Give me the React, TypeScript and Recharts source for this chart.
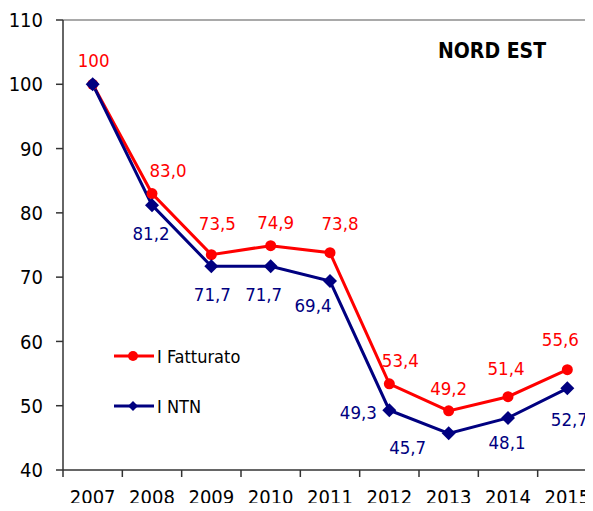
import React from 'react';
import { LineChart, Line, XAxis, YAxis, Legend, ReferenceLine } from 'recharts';

const years = ['2007', '2008', '2009', '2010', '2011', '2012', '2013', '2014', '2015'];
const fatturato = [100, 83.0, 73.5, 74.9, 73.8, 53.4, 49.2, 51.4, 55.6];
const ntn = [100, 81.2, 71.7, 71.7, 69.4, 49.3, 45.7, 48.1, 52.7];
const yTicks = [40, 50, 60, 70, 80, 90, 100, 110];

// label placement relative to the point (dx, dy), null = no label
const redLabelOffsets: ([number, number] | null)[] = [
  [1, -24], [16, -23], [6, -31], [5, -23], [10, -29], [11, -23], [0, -22], [-2, -28], [-7, -30],
];
const blueLabelOffsets: ([number, number] | null)[] = [
  null, [-1, 28], [1, 28], [-7, 28], [-17, 24], [-31, 2], [-41, 14], [-1, 25], [2, 31],
];

const RED = '#ff0000';
const BLUE = '#000080';
const FONT = "'DejaVu Sans Condensed', 'DejaVu Sans', sans-serif";

const chartData = years.map((y, i) => ({
  idx: i,
  year: y,
  fatt: fatturato[i],
  ntn: ntn[i],
}));

const xTicks: number[] = [];
for (let i = 0; i < years.length; i++) {
  xTicks.push(i - 0.5, i);
}
xTicks.push(years.length - 0.5);

const fmt = (v: number) => (v === 100 ? '100' : v.toFixed(1).replace('.', ','));

const XTick = (props: any) => {
  const { x, y, payload } = props;
  const v = payload.value;
  if (Number.isInteger(v)) {
    return (
      <text x={x} y={y + 27} textAnchor="middle" dominantBaseline="central"
        fontFamily={FONT} fontSize={20} fill="#000">
        {years[v]}
      </text>
    );
  }
  return <line x1={x} x2={x} y1={y} y2={y + 7} stroke="#333" strokeWidth={1.5} />;
};

const RedDot = (props: any) => {
  const { cx, cy, index } = props;
  if (cx == null || cy == null) return null;
  return <circle key={`r${index}`} cx={cx} cy={cy} r={5.5} fill={RED} />;
};

const BlueDot = (props: any) => {
  const { cx, cy, index } = props;
  if (cx == null || cy == null) return null;
  const s = 7;
  return (
    <polygon key={`b${index}`}
      points={`${cx},${cy - s} ${cx + s},${cy} ${cx},${cy + s} ${cx - s},${cy}`}
      fill={BLUE} />
  );
};

const makeLabel = (offsets: ([number, number] | null)[], color: string) => (props: any) => {
  const { x, y, value, index } = props;
  const off = offsets[index];
  if (!off || x == null || y == null) return null;
  return (
    <text key={`l${color}${index}`} x={x + off[0]} y={y + off[1]} textAnchor="middle"
      dominantBaseline="central" fontFamily={FONT} fontSize={18.5} fill={color}>
      {fmt(Number(value))}
    </text>
  );
};

const legendItems = [
  { name: 'I Fatturato', color: RED, shape: 'circle' },
  { name: 'I NTN', color: BLUE, shape: 'diamond' },
];

const LegendContent = () => (
  <div style={{ fontFamily: FONT, fontSize: 18 }}>
    {legendItems.map((it, i) => (
      <div key={it.name} style={{ display: 'flex', alignItems: 'center', height: 24, marginTop: i === 0 ? 0 : 26 }}>
        <svg width={44} height={24}>
          <line x1={2} x2={42} y1={12} y2={12} stroke={it.color} strokeWidth={3} />
          {it.shape === 'circle' ? (
            <circle cx={21} cy={12} r={5} fill={it.color} />
          ) : (
            <polygon points="21,7 26,12 21,17 16,12" fill={it.color} />
          )}
        </svg>
        <span style={{ marginLeft: 1, color: '#000' }}>{it.name}</span>
      </div>
    ))}
  </div>
);

export default function App() {
  return (
    <div style={{ position: 'relative', margin: -8, width: 593, height: 511, overflow: 'hidden', background: '#fff' }}>
      <LineChart width={597} height={511} data={chartData}
        margin={{ top: 20, right: 0, left: 0, bottom: 0 }}>
        <ReferenceLine y={110} stroke="#8c8c8c" strokeWidth={1.5} />
        <XAxis dataKey="idx" type="number" domain={[-0.5, 8.5]} ticks={xTicks}
          interval={0} tickSize={0} tickMargin={0} tickLine={false}
          tick={<XTick />} height={41}
          axisLine={{ stroke: '#333', strokeWidth: 1.5 }} />
        <YAxis domain={[40, 110]} ticks={yTicks} width={63} tickSize={7} tickMargin={13}
          interval={0}
          tick={{ fontFamily: FONT, fontSize: 20, fill: '#000' }}
          tickLine={{ stroke: '#333', strokeWidth: 1.5 }}
          axisLine={{ stroke: '#333', strokeWidth: 1.5 }} />
        <Legend layout="vertical" align="center" verticalAlign="middle"
          content={<LegendContent />}
          wrapperStyle={{ position: 'absolute', left: 112, top: 344, width: 'auto' }} />
        <Line dataKey="fatt" name="I Fatturato" stroke={RED} strokeWidth={3}
          dot={RedDot} activeDot={false} label={makeLabel(redLabelOffsets, RED)}
          isAnimationActive={false} />
        <Line dataKey="ntn" name="I NTN" stroke={BLUE} strokeWidth={3}
          dot={BlueDot} activeDot={false} label={makeLabel(blueLabelOffsets, BLUE)}
          isAnimationActive={false} />
      </LineChart>
      <div style={{ position: 'absolute', left: 438, top: 38, fontFamily: FONT, fontWeight: 'bold', fontSize: 21, color: '#000', lineHeight: '26px' }}>
        NORD EST
      </div>
    </div>
  );
}
